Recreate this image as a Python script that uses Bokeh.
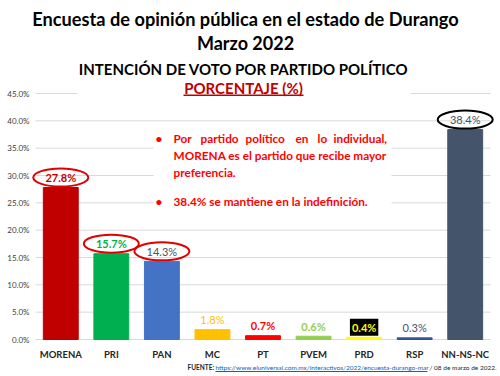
from bokeh.plotting import figure
from bokeh.models import (ColumnDataSource, BoxAnnotation, FixedTicker, Label,
                          LinearAxis, PrintfTickFormatter, Range1d)
from bokeh.core.properties import value
from bokeh.embed import file_html
from bokeh.resources import INLINE

partidos = ["MORENA", "PRI", "PAN", "MC", "PT", "PVEM", "PRD", "RSP", "NN-NS-NC"]
porcentajes = [27.8, 15.7, 14.3, 1.8, 0.7, 0.6, 0.4, 0.3, 38.4]
colores_barra = ["#C00000", "#00B050", "#4472C4", "#FFC000", "#FF0000",
                 "#92D050", "#FFFF00", "#2F5597", "#44546A"]
colores_texto = ["#C00000", "#00B050", "#44546A", "#FFC000", "#FF0000",
                 "#92D050", "#FFFF00", "#44546A", "#44546A"]
estilos_texto = ["bold", "bold", "normal", "normal", "bold",
                 "bold", "bold", "normal", "normal"]
y_ticks = [0, 5, 10, 15, 20, 25, 30, 35, 40, 45]
circulados = ["MORENA", "PRI", "PAN", "NN-NS-NC"]
colores_circulo = ["#E00000", "#E00000", "#E00000", "#000000"]

titulo = "Encuesta de opinión pública en el estado de Durango"
subtitulo = "Marzo 2022"
encabezado = "INTENCIÓN DE VOTO POR PARTIDO POLÍTICO"
unidad = "PORCENTAJE (%)"
viñeta1 = ["Por", "partido", "político", "en", "lo", "individual,"]
viñeta1_l2 = "MORENA es el partido que recibe mayor"
viñeta1_l3 = "preferencia."
viñeta2 = "38.4% se mantiene en la indefinición."
fuente_url = "https://www.eluniversal.com.mx/interactivos/2022/encuesta-durango-mar"
fuente_fecha = "/ 08 de marzo de 2022."

FONT = "Lato"
W, H = 500, 376
# plot area in page pixels
PL, PR, PT, PB = 35, 490, 93, 339
n = len(partidos)
x_pos = list(range(n))
D = (PR - PL) / n                    # px per category
K = (PB - PT) / y_ticks[-1]          # px per percentage point

p = figure(width=W, height=H, output_backend="svg", toolbar_location=None,
           x_axis_location=None, y_axis_location=None,
           x_range=Range1d(-0.5 - PL / D, n - 0.5 + (W - PR) / D),
           y_range=Range1d(-(H - PB) / K, y_ticks[-1] + PT / K),
           min_border=0, min_border_left=0, min_border_right=0,
           min_border_top=0, min_border_bottom=0)
p.outline_line_color = None
p.background_fill_color = "white"
p.border_fill_color = "white"
p.grid.visible = False

# grid lines across the plot area
p.segment(x0=[-0.5] * len(y_ticks), x1=[n - 0.5] * len(y_ticks),
          y0=y_ticks, y1=y_ticks, line_color="#D9D9D9", line_width=1,
          level="underlay")

yaxis = LinearAxis(fixed_location=-0.5, ticker=FixedTicker(ticks=y_ticks),
                   formatter=PrintfTickFormatter(format="%.1f%%"))
yaxis.axis_line_color = None
yaxis.major_tick_line_color = None
yaxis.minor_tick_line_color = None
yaxis.major_tick_out = 0
yaxis.major_tick_in = 0
yaxis.major_label_text_font = FONT
yaxis.major_label_text_font_size = "8px"
yaxis.major_label_text_color = "#404040"
yaxis.major_label_standoff = 6
p.add_layout(yaxis, "left")

xaxis = LinearAxis(fixed_location=0, ticker=FixedTicker(ticks=x_pos),
                   major_label_overrides={i: s for i, s in zip(x_pos, partidos)})
xaxis.axis_line_color = None
xaxis.major_tick_line_color = None
xaxis.minor_tick_line_color = None
xaxis.major_tick_out = 0
xaxis.major_tick_in = 0
xaxis.major_label_text_font = FONT
xaxis.major_label_text_font_size = "9.5px"
xaxis.major_label_text_font_style = "bold"
xaxis.major_label_text_color = "#262626"
xaxis.major_label_standoff = 9
p.add_layout(xaxis, "below")

src = ColumnDataSource(dict(
    x=x_pos, top=porcentajes, color=colores_barra,
    tcolor=colores_texto, tstyle=estilos_texto,
    label=[f"{v:.1f}%" for v in porcentajes],
))
p.vbar(x="x", top="top", width=0.69, color="color", source=src)

p.text(x="x", y="top", text="label", source=src, y_offset=-10,
       text_align="center", text_baseline="middle",
       text_font=value(FONT), text_font_size="11px",
       text_font_style="tstyle", text_color="tcolor")

idx = [partidos.index(c) for c in circulados]
esrc = ColumnDataSource(dict(
    x=[x_pos[i] for i in idx],
    y=[porcentajes[i] + 10 / K for i in idx],
    c=colores_circulo,
))
p.ellipse(x="x", y="y", width=55, height=18, width_units="screen",
          height_units="screen", fill_color=None, line_color="c",
          line_width=2, source=esrc)

i = partidos.index("PRD")
p.text(x=[x_pos[i]], y=[porcentajes[i]], text=[f"{porcentajes[i]:.1f}%"],
       y_offset=-10, text_align="center", text_baseline="middle",
       text_font=value(FONT), text_font_size="11px", text_font_style="bold",
       text_color="#FFFF00", background_fill_color="black", padding=2)


def box(l, r, t, b, color):
    p.add_layout(BoxAnnotation(left=l, right=r, top=H - t, bottom=H - b,
                               left_units="screen", right_units="screen",
                               top_units="screen", bottom_units="screen",
                               fill_color=color, fill_alpha=1, line_color=None,
                               level="annotation"))


def lab(s, x, y, size, color="black", style="bold", align="left"):
    p.add_layout(Label(x=x, y=H - y, x_units="screen", y_units="screen",
                       text=s, text_font=FONT, text_font_size=size,
                       text_font_style=style, text_color=color,
                       text_align=align, text_baseline="middle"))


# white boxes hiding grid lines behind texts
box(153, 391, 126, 214, "white")
box(77, 410, 90, 96, "white")

# header
lab(titulo, 245, 18, "18.2px", align="center")
lab(subtitulo, 245, 42, "18px", align="center")
lab(encabezado, 243, 68, "15px", align="center")
lab(unidad, 243, 87, "15px", color="#C00000", align="center")
box(183, 303, 94, 95.5, "#C00000")

# bullets
red = "#FF0000"
FS = "11.8px"
lab("•", 155, 138, FS, red)
for w, x in zip(viñeta1, [173, 200, 245, 295, 317, 333]):
    lab(w, x, 138, FS, red)
lab(viñeta1_l2, 173, 155, FS, red)
lab(viñeta1_l3, 173, 172, FS, red)
lab("•", 155, 201, FS, red)
lab(viñeta2, 173, 201, FS, red)

# source line
lab("FUENTE:", 187, 367, "6.5px", color="#262626")
lab(fuente_url, 215, 367, "6.5px", color="#0563C1", style="normal")
box(215, 427, 370.6, 371.4, "#0563C1")
lab(fuente_fecha, 429, 367, "6.5px", color="#262626", style="normal")

open("out.html", "w").write(file_html(p, INLINE))
